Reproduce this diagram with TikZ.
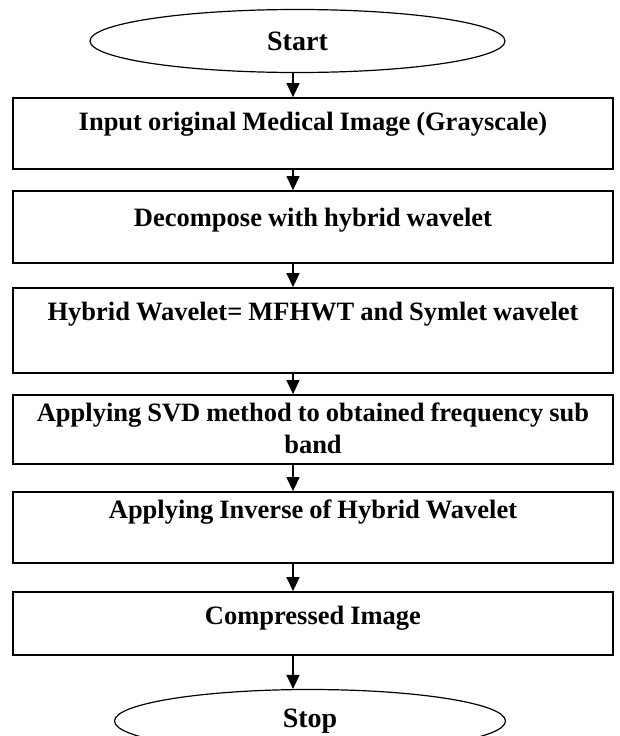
\documentclass[tikz,border=0pt]{standalone}
\usepackage{fontspec}
\setmainfont{Liberation Serif}
\usetikzlibrary{arrows.meta,positioning,shapes.geometric}

\tikzset{
  stepbox/.style={draw, line width=1.8pt, minimum width=600pt, inner sep=0pt},
  steptext/.style={anchor=base, align=center, inner sep=0pt,
    font=\bfseries\fontsize{26.5}{31.5}\selectfont,
    execute at begin node={\spaceskip=6pt\relax}},
  terminal/.style={draw, ellipse, line width=1.2pt, inner sep=0pt,
    font=\bfseries\fontsize{28}{32}\selectfont},
  flow/.style={line width=1.3pt, -{Triangle[length=14pt,width=13pt]}}
}

\begin{document}
\begin{tikzpicture}[x=1pt,y=-1pt]
    \useasboundingbox (0,0) rectangle (619,736);

    \def\bx{313}
    \coordinate (ax) at (293,0);

    % start / stop
    \node[terminal, minimum width=415pt, minimum height=63pt] (start) at (297.5,41) {Start};
    \node[terminal, minimum width=391pt, minimum height=63pt] (stop) at (310,721) {Stop};

    % steps
    \node[stepbox, minimum height=71pt] (inp) at (\bx,133.5) {};
    \node[steptext] (inp-t) at (\bx,130.5) {Input original Medical Image (Grayscale)};

    \node[stepbox, minimum height=72pt] (dec) at (\bx,227) {};
    \node[steptext] (dec-t) at (\bx,226.5) {Decompose with hybrid wavelet};

    \node[stepbox, minimum height=85pt] (hyb) at (\bx,330.5) {};
    \node[steptext] (hyb-t) at (\bx,320.5) {Hybrid Wavelet= MFHWT and Symlet wavelet};

    % two lines: base is the last one
    \node[stepbox, minimum height=69pt] (svd) at (\bx,429.5) {};
    \node[steptext] (svd-t) at (\bx,453) {Applying SVD method to obtained frequency sub\\ band};

    \node[stepbox, minimum height=71pt] (inv) at (\bx,527.5) {};
    \node[steptext] (inv-t) at (\bx,518.5) {Applying Inverse of Hybrid Wavelet};

    \node[stepbox, minimum height=63pt] (comp) at (\bx,623.5) {};
    \node[steptext] (comp-t) at (\bx,624) {Compressed Image};

    % arrows
    \foreach \a/\b in {start/inp, inp/dec, dec/hyb, hyb/svd, svd/inv, inv/comp, comp/stop}
      \draw[flow] (\a.south -| ax) -- (\b.north -| ax);

\end{tikzpicture}
\end{document}
